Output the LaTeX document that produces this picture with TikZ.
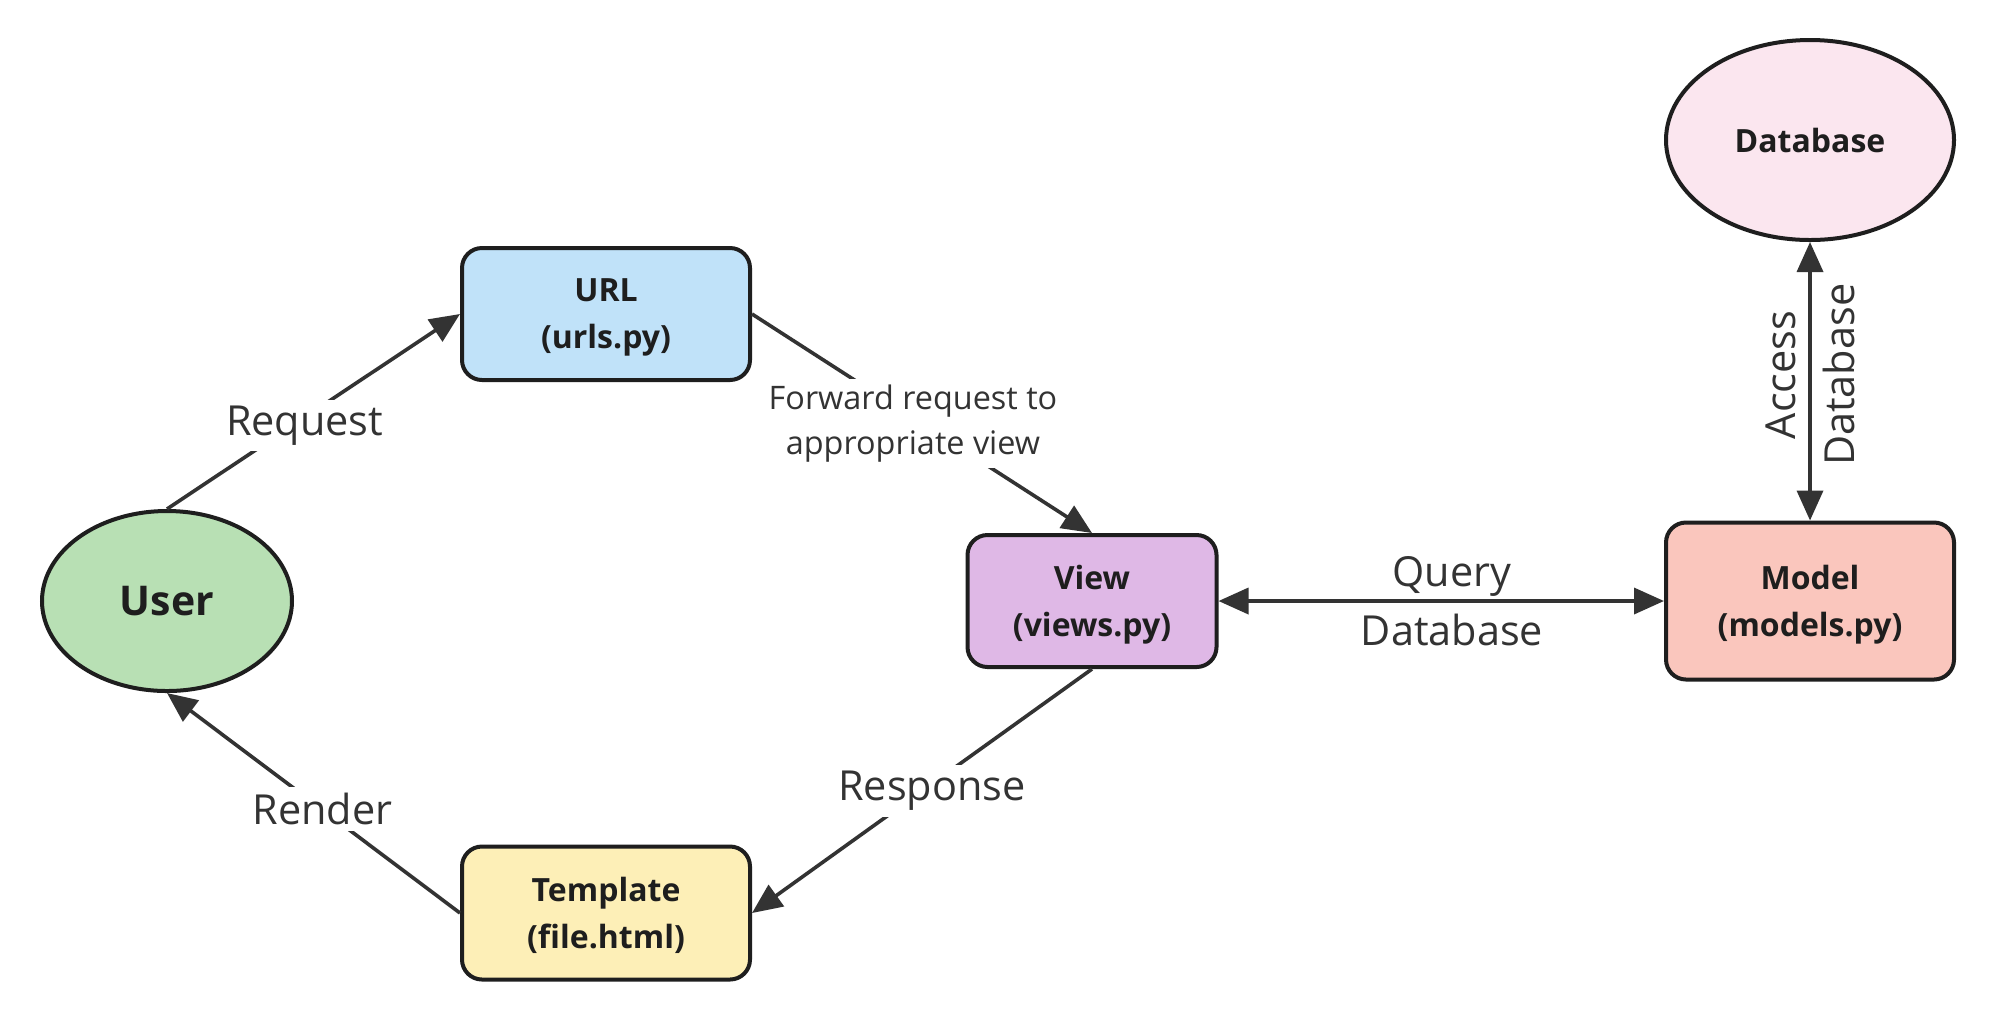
\documentclass[tikz,border=0pt]{standalone}
\usepackage{fontspec}
\setmainfont{Open Sans}
\usetikzlibrary{shapes.geometric,arrows.meta}
\definecolor{lineC}{HTML}{333333}
\definecolor{borderC}{HTML}{1E1E1E}
\definecolor{urlC}{HTML}{C0E2F9}
\definecolor{viewC}{HTML}{DFB8E6}
\definecolor{modelC}{HTML}{FAC6BD}
\definecolor{tplC}{HTML}{FDEFB7}
\definecolor{userC}{HTML}{B8E0B4}
\definecolor{dbC}{HTML}{FBE6EF}
\tikzset{
  boxnode/.style={draw=borderC, line width=2pt, rounded corners=10pt, align=center,
    font=\fontsize{16}{23.5}\selectfont\bfseries, text=borderC, inner sep=0pt, text depth=0pt},
  ellnode/.style={ellipse, draw=borderC, line width=2pt, align=center, inner sep=0pt, text=borderC},
  conn/.style={draw=lineC, line width=1.8pt, -{Triangle[length=15pt,width=13pt]}},
  biconn/.style={draw=lineC, line width=1.8pt, {Triangle[length=15pt,width=13pt]}-{Triangle[length=15pt,width=13pt]}},
  lbl/.style={fill=white, text=lineC, font=\fontsize{20.7}{29}\selectfont, inner sep=3pt, align=center},
  smalllbl/.style={fill=white, text=lineC, font=\fontsize{16.2}{22.5}\selectfont, inner sep=3pt, align=center},
  openlbl/.style={text=lineC, font=\fontsize{20.7}{29.5}\selectfont, inner sep=0pt, align=center}
}
\begin{document}
\begin{tikzpicture}[x=0.5pt,y=-0.5pt]
\useasboundingbox[fill=white] (0,0) rectangle (2006,1014);
\node[ellnode, fill=userC, minimum width=125pt, minimum height=90pt, font=\fontsize{20.5}{24}\selectfont\bfseries] (user) at (167,601) {User};
\node[boxnode, fill=urlC, minimum width=144pt, minimum height=66pt] (url) at (606,314) {URL\\(urls.py)};
\node[boxnode, fill=viewC, minimum width=124.5pt, minimum height=66pt] (view) at (1092,601) {View\\(views.py)};
\node[boxnode, fill=modelC, minimum width=144pt, minimum height=78.5pt] (model) at (1810,601) {Model\\(models.py)};
\node[boxnode, fill=tplC, minimum width=144pt, minimum height=66.5pt] (tpl) at (606,913) {Template\\(file.html)};
\node[ellnode, fill=dbC, minimum width=144pt, minimum height=100pt, font=\fontsize{16}{20}\selectfont\bfseries] (db) at (1810,140) {Database};

\draw[conn] (user.north) -- node[lbl, pos=0.47, yshift=-4pt] {Request} (url.west);
\draw[conn] (url.east) -- node[smalllbl, pos=0.5, xshift=-4.5pt] {Forward request to\\appropriate view} (view.north);
\draw[conn] (view.south) -- node[lbl, pos=0.5, xshift=5pt] {Response} (tpl.east);
\draw[conn] (tpl.west) -- node[lbl, pos=0.5, xshift=4.5pt, yshift=-3pt] {Render} (user.south);
\draw[biconn] (view.east) -- node[openlbl, pos=0.524] {Query\\Database} (model.west);
\draw[biconn] (model.north) -- node[openlbl, rotate=90, pos=0.523] {Access\\Database} (db.south);
\end{tikzpicture}
\end{document}
